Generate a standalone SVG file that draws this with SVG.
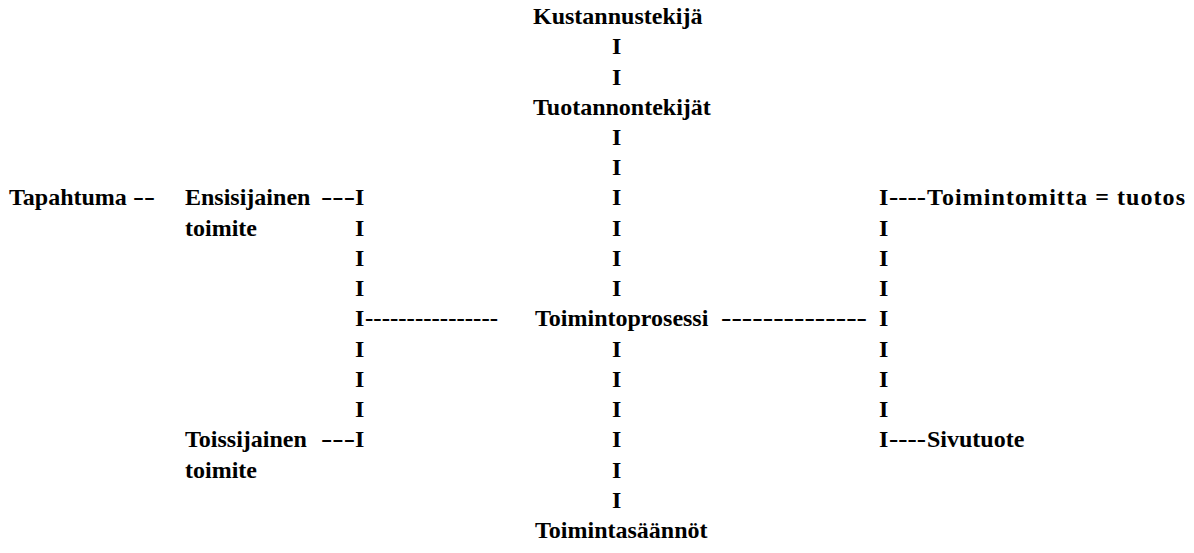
<svg xmlns="http://www.w3.org/2000/svg" width="1194" height="553" viewBox="0 0 1194 553">
<style>
text{font-family:"Liberation Serif","Times New Roman",serif;font-weight:bold;font-size:24px;fill:#000}
.d{letter-spacing:0}
</style>
<rect width="1194" height="553" fill="#fff"/>
<g id="connectors">
<text x="612" y="54.2">I</text>
<text x="612" y="84.5">I</text>
<text x="612" y="145">I</text>
<text x="612" y="175.2">I</text>
<text x="612" y="205.4">I</text>
<text x="612" y="235.7">I</text>
<text x="612" y="265.9">I</text>
<text x="612" y="296.2">I</text>
<text x="612" y="356.6">I</text>
<text x="612" y="386.9">I</text>
<text x="612" y="417.1">I</text>
<text x="612" y="447.4">I</text>
<text x="612" y="477.6">I</text>
<text x="612" y="507.8">I</text>
<text class="d" x="133" y="205.4" textLength="22" lengthAdjust="spacingAndGlyphs">--</text>
<text class="d" x="321" y="205.4" textLength="34" lengthAdjust="spacingAndGlyphs">---</text>
<text x="355" y="205.4">I</text>
<text x="355" y="235.7">I</text>
<text x="355" y="265.9">I</text>
<text x="355" y="296.2">I</text>
<text x="355" y="326.4">I</text>
<text class="d" x="365" y="326.4" textLength="133" lengthAdjust="spacingAndGlyphs">----------------</text>
<text x="355" y="356.6">I</text>
<text x="355" y="386.9">I</text>
<text x="355" y="417.1">I</text>
<text class="d" x="321" y="447.4" textLength="34" lengthAdjust="spacingAndGlyphs">---</text>
<text x="355" y="447.4">I</text>
<text x="879" y="205.4">I</text>
<text class="d" x="889" y="205.4" textLength="37" lengthAdjust="spacingAndGlyphs">----</text>
<text x="879" y="235.7">I</text>
<text x="879" y="265.9">I</text>
<text x="879" y="296.2">I</text>
<text class="d" x="721" y="326.4" textLength="146" lengthAdjust="spacingAndGlyphs">--------------</text>
<text x="879" y="326.4">I</text>
<text x="879" y="356.6">I</text>
<text x="879" y="386.9">I</text>
<text x="879" y="417.1">I</text>
<text x="879" y="447.4">I</text>
<text class="d" x="889" y="447.4" textLength="37" lengthAdjust="spacingAndGlyphs">----</text>
</g>
<g id="kustannustekija"><text x="533" y="24">Kustannustekijä</text></g>
<g id="tuotannontekijat"><text x="533" y="114.7">Tuotannontekijät</text></g>
<g id="tapahtuma"><text x="9" y="205.4">Tapahtuma</text></g>
<g id="ensisijainen"><text x="185" y="205.4">Ensisijainen</text><text x="185" y="235.7">toimite</text></g>
<g id="toimintomitta"><text x="927" y="205.4" textLength="258" lengthAdjust="spacing">Toimintomitta = tuotos</text></g>
<g id="toimintoprosessi"><text x="535" y="326.4">Toimintoprosessi</text></g>
<g id="toissijainen"><text x="185" y="447.4">Toissijainen</text><text x="185" y="477.6">toimite</text></g>
<g id="sivutuote"><text x="927" y="447.4">Sivutuote</text></g>
<g id="toimintasaannot"><text x="535" y="538">Toimintasäännöt</text></g>
</svg>
